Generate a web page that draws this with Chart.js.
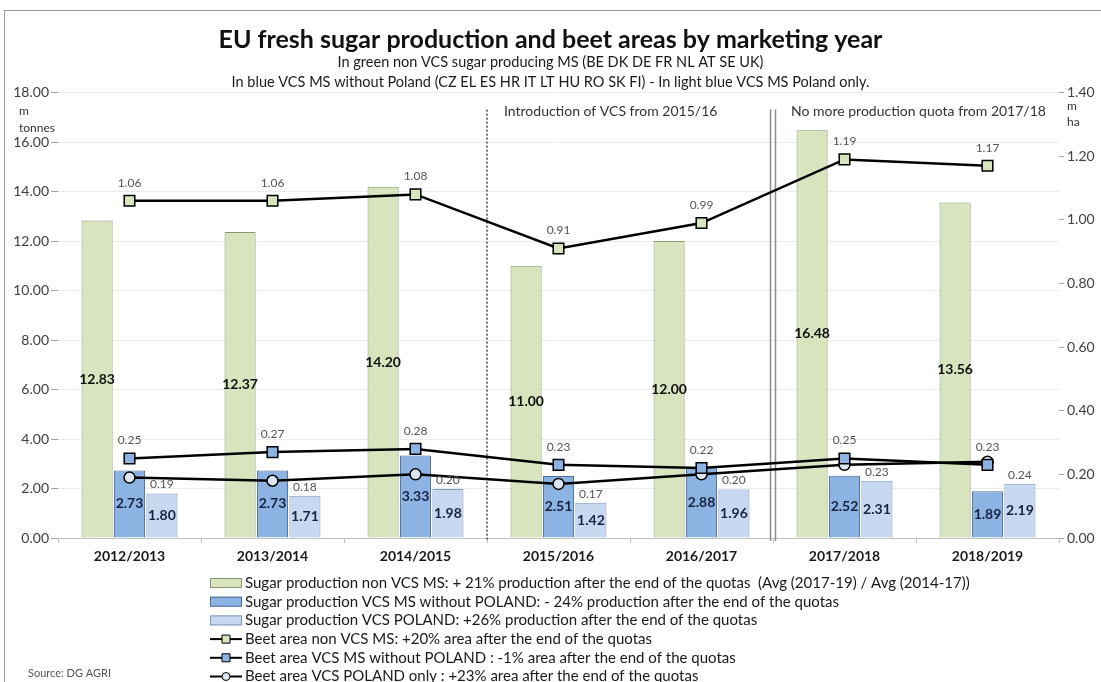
<!DOCTYPE html>
<html>
<head>
<meta charset="utf-8">
<script src="https://cdn.jsdelivr.net/npm/chart.js@4.4.1/dist/chart.umd.min.js"></script>
<style>
  html, body { margin: 0; padding: 0; background: #fff; }
  #wrap { position: relative; width: 1101px; height: 682px; overflow: hidden; }
  #frame { position: absolute; left: 4px; top: 10px; right: -4px; bottom: -4px;
           border-left: 1.5px solid #9a9a9a; border-top: 1.5px solid #9a9a9a; pointer-events: none; }
</style>
</head>
<body>
<div id="wrap"><canvas id="chart"></canvas><div id="frame"></div></div>
<script>
  // marketing years
  const years = ['2012/2013', '2013/2014', '2014/2015', '2015/2016', '2016/2017', '2017/2018', '2018/2019'];

  // sugar production, m tonnes
  const sugarNonVcs = [12.83, 12.37, 14.20, 11.00, 12.00, 16.48, 13.56];
  const sugarVcs = [2.73, 2.73, 3.33, 2.51, 2.88, 2.52, 1.89];
  const sugarPoland = [1.80, 1.71, 1.98, 1.42, 1.96, 2.31, 2.19];

  // beet area, m ha
  const areaNonVcs = [1.06, 1.06, 1.08, 0.91, 0.99, 1.19, 1.17];
  const areaVcs = [0.25, 0.27, 0.28, 0.23, 0.22, 0.25, 0.23];
  const areaPoland = [0.19, 0.18, 0.20, 0.17, 0.20, 0.23, 0.24];

  const legendTexts = [
    'Sugar production non VCS MS: + 21% production after the end of the quotas  (Avg (2017-19) / Avg (2014-17))',
    'Sugar production VCS MS without POLAND: - 24% production after the end of the quotas',
    'Sugar production VCS POLAND: +26% production after the end of the quotas',
    'Beet area non VCS MS: +20% area after the end of the quotas',
    'Beet area VCS MS without POLAND : -1% area after the end of the quotas',
    'Beet area VCS POLAND only : +23% area after the end of the quotas'
  ];

  const FONT = 'Lato, "Liberation Sans", sans-serif';
  Chart.defaults.font.family = FONT;

  let datos = {
    labels: years,
    datasets: [
      { type: 'bar', label: legendTexts[0], data: sugarNonVcs, yAxisID: 'y',
        backgroundColor: '#d7e4bd', borderColor: '#8a9870', borderWidth: 1, order: 1 },
      { type: 'bar', label: legendTexts[1], data: sugarVcs, yAxisID: 'y',
        backgroundColor: '#8db3e2', borderColor: '#4a6c9b', borderWidth: 1, order: 1 },
      { type: 'bar', label: legendTexts[2], data: sugarPoland, yAxisID: 'y',
        backgroundColor: '#c6d9f1', borderColor: '#7e96b8', borderWidth: 1, order: 1 },
      { type: 'line', label: legendTexts[3], data: areaNonVcs, yAxisID: 'y1',
        borderColor: '#000', borderWidth: 2.5, tension: 0,
        pointStyle: 'rect', pointRadius: 7.5, pointBackgroundColor: '#d7e4bd',
        pointBorderColor: '#000', pointBorderWidth: 1.5, order: 0 },
      { type: 'line', label: legendTexts[4], data: areaVcs, yAxisID: 'y1',
        borderColor: '#000', borderWidth: 2.5, tension: 0,
        pointStyle: 'rect', pointRadius: 7.5, pointBackgroundColor: '#8db3e2',
        pointBorderColor: '#000', pointBorderWidth: 1.5, order: 0 },
      { type: 'line', label: legendTexts[5], data: areaPoland, yAxisID: 'y1',
        borderColor: '#000', borderWidth: 2.5, tension: 0,
        pointStyle: 'circle', pointRadius: 5.5, pointBackgroundColor: '#dce6f2',
        pointBorderColor: '#000', pointBorderWidth: 1.5, order: 0 }
    ]
  };

  // data labels, dividers, unit texts and the legend
  const extras = {
    id: 'extras',
    beforeDatasetsDraw(chart) {
      const { ctx, chartArea, scales: { x } } = chart;
      const b1 = (x.getPixelForValue(2) + x.getPixelForValue(3)) / 2;
      const b2 = (x.getPixelForValue(4) + x.getPixelForValue(5)) / 2;
      ctx.save();
      ctx.strokeStyle = '#707070';
      ctx.lineWidth = 2;
      ctx.setLineDash([2, 2]);
      ctx.beginPath();
      ctx.moveTo(b1, chartArea.top + 17);
      ctx.lineTo(b1, chartArea.bottom + 3);
      ctx.stroke();
      ctx.setLineDash([]);
      ctx.strokeStyle = '#8c8c8c';
      ctx.lineWidth = 1.5;
      [-2.5, 2.5].forEach(d => {
        ctx.beginPath();
        ctx.moveTo(b2 + d, chartArea.top + 17);
        ctx.lineTo(b2 + d, chartArea.bottom + 3);
        ctx.stroke();
      });
      ctx.fillStyle = '#333';
      ctx.font = '14px ' + FONT;
      ctx.textAlign = 'left';
      ctx.textBaseline = 'middle';
      ctx.fillText('Introduction of VCS from 2015/16', b1 + 17, chartArea.top + 19);
      ctx.fillText('No more production quota from 2017/18', b2 + 18, chartArea.top + 19);
      ctx.restore();
    },
    afterDatasetsDraw(chart) {
      const { ctx } = chart;
      ctx.save();
      ctx.textAlign = 'center';
      ctx.textBaseline = 'middle';
      // bar values
      [0, 1, 2].forEach(i => {
        const meta = chart.getDatasetMeta(i);
        ctx.font = 'bold 14px ' + FONT;
        ctx.fillStyle = i === 0 ? '#111' : '#16233f';
        meta.data.forEach((bar, j) => {
          const v = chart.data.datasets[i].data[j];
          ctx.fillText(v.toFixed(2), bar.x, (bar.y + bar.base) / 2);
        });
      });
      // line values
      ctx.font = '12px ' + FONT;
      ctx.fillStyle = '#555';
      [3, 4].forEach(i => {
        chart.getDatasetMeta(i).data.forEach((pt, j) => {
          ctx.fillText(chart.data.datasets[i].data[j].toFixed(2), pt.x, pt.y - 18);
        });
      });
      const polBars = chart.getDatasetMeta(2).data;
      polBars.forEach((bar, j) => {
        ctx.fillText(chart.data.datasets[5].data[j].toFixed(2), bar.x, bar.y - 9);
      });
      ctx.restore();
    },
    afterDraw(chart) {
      const { ctx, chartArea } = chart;
      ctx.save();
      ctx.fillStyle = '#333';
      ctx.font = '12px ' + FONT;
      ctx.textAlign = 'left';
      ctx.textBaseline = 'middle';
      ctx.fillText('m', 19, chartArea.top + 19);
      ctx.fillText('tonnes', 19, chartArea.top + 36);
      ctx.fillText('m', chartArea.right + 8, chartArea.top + 14);
      ctx.fillText('ha', chartArea.right + 8, chartArea.top + 30);

      // legend
      const x0 = 210, y0 = 583, rowH = 18.7;
      ctx.font = '15px ' + FONT;
      chart.data.datasets.forEach((ds, i) => {
        const y = y0 + i * rowH;
        if (ds.type === 'bar') {
          ctx.fillStyle = ds.backgroundColor;
          ctx.strokeStyle = ds.borderColor;
          ctx.lineWidth = 1;
          ctx.fillRect(x0, y - 5, 32, 10);
          ctx.strokeRect(x0 + 0.5, y - 4.5, 31, 9);
        } else {
          ctx.strokeStyle = '#000';
          ctx.lineWidth = 2;
          ctx.beginPath();
          ctx.moveTo(x0, y);
          ctx.lineTo(x0 + 32, y);
          ctx.stroke();
          ctx.fillStyle = ds.pointBackgroundColor;
          ctx.lineWidth = 1;
          ctx.beginPath();
          if (ds.pointStyle === 'circle') {
            ctx.arc(x0 + 16, y, 4, 0, Math.PI * 2);
          } else {
            ctx.rect(x0 + 12, y - 4, 8, 8);
          }
          ctx.fill();
          ctx.stroke();
        }
        ctx.fillStyle = '#1a1a1a';
        ctx.fillText(ds.label, x0 + 35, y);
      });

      ctx.fillStyle = '#555';
      ctx.font = '11px ' + FONT;
      ctx.fillText('Source: DG AGRI', 28, 673);
      ctx.restore();
    }
  };

  let opciones = {
    responsive: true,
    maintainAspectRatio: false,
    animation: false,
    layout: { padding: 0 },
    datasets: {
      bar: { categoryPercentage: 0.68, barPercentage: 0.96 }
    },
    scales: {
      x: {
        grid: { drawOnChartArea: false, drawTicks: true, tickLength: 5, color: '#bfbfbf' },
        border: { color: '#bfbfbf' },
        ticks: { color: '#1a1a1a', padding: 5, font: { size: 14, weight: 'bold' } },
        afterFit(s) { s.height = 144; }
      },
      y: {
        type: 'linear',
        position: 'left',
        min: 0, max: 18,
        ticks: { stepSize: 2, color: '#404040', padding: 2, font: { size: 14 },
                 callback: v => v.toFixed(2) },
        grid: { color: '#ececec', tickColor: '#a0a0a0', tickLength: 7 },
        border: { display: false },
        afterFit(s) { s.width = 58; }
      },
      y1: {
        type: 'linear',
        position: 'right',
        min: 0, max: 1.4,
        ticks: { stepSize: 0.2, color: '#404040', padding: 3, font: { size: 14 },
                 callback: v => v.toFixed(2) },
        grid: { drawOnChartArea: false, tickColor: '#a0a0a0', tickLength: 5 },
        border: { display: false },
        afterFit(s) { s.width = 42; }
      }
    },
    plugins: {
      legend: { display: false },
      tooltip: { enabled: false },
      title: {
        display: true,
        text: 'EU fresh sugar production and beet areas by marketing year',
        color: '#111',
        font: { size: 25, weight: 'bold', lineHeight: 1.0 },
        padding: { top: 27, bottom: 0 }
      },
      subtitle: {
        display: true,
        text: [
          'In green non VCS sugar producing MS (BE DK DE FR NL AT SE UK)',
          'In blue VCS MS without Poland (CZ EL ES HR IT LT HU RO SK FI) - In light blue VCS MS Poland only.'
        ],
        color: '#1a1a1a',
        font: { size: 14.5, lineHeight: 1.4 },
        padding: { top: 0, bottom: 0 }
      }
    }
  };

  let ctx = document.getElementById('chart').getContext('2d');
  let miGrafica = new Chart(ctx, {
    type: 'bar',
    data: datos,
    options: opciones,
    plugins: [extras]
  });
</script>
</body>
</html>
